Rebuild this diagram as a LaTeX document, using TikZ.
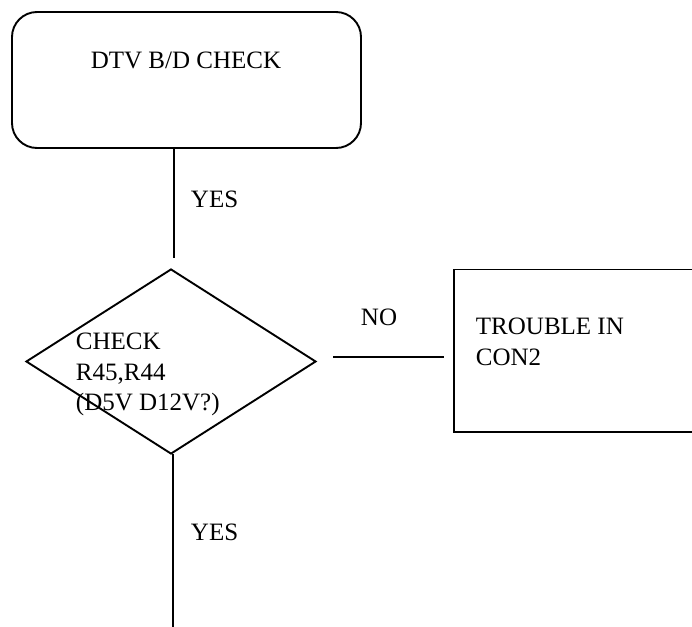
\documentclass[tikz,border=0pt]{standalone}
\usepackage{fontspec}
\setmainfont{Liberation Serif}
\usetikzlibrary{shapes.geometric}
\begin{document}
\begin{tikzpicture}[x=0.5pt,y=-0.5pt,line width=0.95pt,
  lbl/.style={inner sep=0pt,font=\fontsize{12.5}{15}\selectfont},
  shapebox/.style={draw,inner sep=0pt}]
\useasboundingbox (0,0) rectangle (692,627);
% top rounded box
\node[shapebox,rounded corners=12.5pt,minimum width=174.5pt,minimum height=68pt] (top) at (186.5,80) {};
\node[lbl,anchor=base] (toptext) at (186,68) {DTV B/D CHECK};
% diamond
\node[shapebox,diamond,minimum width=145pt,minimum height=92.5pt] (dia) at (171,361.5) {};
\node[lbl,anchor=base west] (d1) at (75,349) {CHECK};
\node[lbl,anchor=base west] (d2) at (75,380) {R45,R44};
\node[lbl,anchor=base west] (d3) at (75,410.5) {(D5V D12V?)};
% right box (cut by the right edge)
\node[shapebox,anchor=north west,minimum width=143.5pt,minimum height=81.25pt] (trouble) at (453,268.5) {};
\node[lbl,anchor=base west] (t1) at (475,334) {TROUBLE IN};
\node[lbl,anchor=base west] (t2) at (475,365.5) {CON2};
% connectors
\coordinate (a1) at (174,148);
\coordinate (a2) at (174,258);
\draw (a1) -- (a2);
\node[lbl,anchor=base west] (yes1) at (190,207.5) {YES};
\coordinate (n1) at (333,357);
\coordinate (n2) at (444,357);
\draw (n1) -- (n2);
\node[lbl,anchor=base west] (no) at (360,325) {NO};
\coordinate (b1) at (173,454);
\coordinate (b2) at (173,627);
\draw (b1) -- (b2);
\node[lbl,anchor=base west] (yes2) at (190,540) {YES};
\end{tikzpicture}
\end{document}
